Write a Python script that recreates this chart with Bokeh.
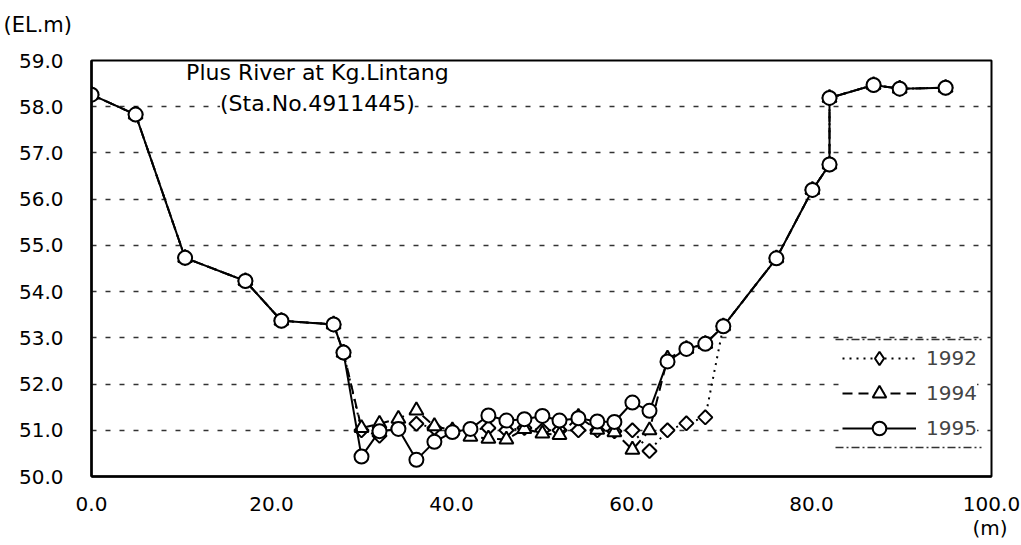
from bokeh.plotting import figure
from bokeh.models import (FixedTicker, NumeralTickFormatter, Label, Legend, Arrow, Range1d, Title)
from bokeh.embed import file_html
from bokeh.resources import INLINE
import numpy as np

# ---- data ----
dist = [0, 4.9, 10.4, 17.1, 21.1, 26.9, 28.0, 30.0, 32.0, 34.1, 36.1, 38.1, 40.1, 42.1,
        44.1, 46.1, 48.1, 50.1, 52.0, 54.1, 56.2, 58.1, 60.1, 62.0, 64.0, 66.1, 68.2,
        70.2, 76.1, 80.1, 82.0, 82.0, 86.9, 89.8, 94.9]

el_1995 = [58.26, 57.83, 54.73, 54.23, 53.37, 53.29, 52.68, 50.43, 50.98, 51.03, 50.36,
           50.75, 50.96, 51.03, 51.32, 51.21, 51.24, 51.31, 51.21, 51.26, 51.19, 51.18,
           51.60, 51.42, 52.49, 52.76, 52.87, 53.25, 54.72, 56.20, 56.75, 58.19, 58.47,
           58.39, 58.41]

el_1994 = [58.26, 57.83, 54.73, 54.23, 53.37, 53.29, 52.68, 51.05, 51.14, 51.25, 51.43,
           51.09, 51.00, 50.86, 50.82, 50.80, 51.03, 50.93, 50.90, 51.29, 51.01, 50.96,
           50.58, 51.00, 52.55, 52.76, 52.87, 53.25, 54.72, 56.20, 56.75, 58.19, 58.47,
           58.39, 58.41]

el_1992 = [58.26, 57.83, 54.73, 54.23, 53.37, 53.29, 52.68, 51.00, 50.88, 51.05, 51.14,
           51.05, 50.98, 51.00, 51.05, 51.00, 51.05, 51.00, 51.00, 51.00, 51.00, 50.98,
           51.00, 50.55, 51.00, 51.15, 51.28, 53.25, 54.72, 56.20, 56.75, 58.19, 58.47,
           58.39, 58.41]

years = ["1992", "1994", "1995"]
y_ticks = [50, 51, 52, 53, 54, 55, 56, 57, 58, 59]
x_ticks = [0, 20, 40, 60, 80, 100]

FONT = "DejaVu Sans"

FW, FH = 900, 416
p = figure(width=1021, height=545, frame_width=FW, frame_height=FH,
           x_range=Range1d(0, 100), y_range=Range1d(50, 59),
           output_backend="svg", toolbar_location=None,
           min_border_left=91, min_border_right=30, min_border_top=60, min_border_bottom=69)
p.background_fill_color = "white"
p.border_fill_color = "white"
p.outline_line_color = "black"
p.outline_line_width = 2

# axes
p.xaxis.ticker = FixedTicker(ticks=x_ticks)
p.yaxis.ticker = FixedTicker(ticks=y_ticks)
p.xaxis.formatter = NumeralTickFormatter(format="0.0")
p.yaxis.formatter = NumeralTickFormatter(format="0.0")
for ax in (p.xaxis[0], p.yaxis[0]):
    ax.major_tick_in = 0
    ax.major_tick_out = 0
    ax.minor_tick_in = 0
    ax.minor_tick_out = 0
    ax.axis_line_color = "black"
    ax.axis_line_width = 2.5
    ax.major_label_text_font = FONT
    ax.major_label_text_font_size = "20px"
    ax.major_label_text_color = "black"
p.yaxis.major_label_standoff = 28
p.xaxis.major_label_standoff = 20

p.xgrid.grid_line_color = None
p.ygrid.grid_line_color = "#333333"
p.ygrid.grid_line_dash = "5 9"
p.ygrid.grid_line_width = 1.3

# series
r92l = p.line(dist, el_1992, line_color="black", line_width=2, line_dash="2 5")
# diamond-shaped swatch for the legend (drawn beneath the rotated squares, fully covered)
r92k = p.scatter(dist, el_1992, marker="diamond", size=11,
                 fill_color="white", line_color="black", line_width=2)
r92m = p.scatter(dist, el_1992, marker="square", angle=np.pi / 4, size=10,
                 fill_color="white", line_color="black", line_width=2)
r94l = p.line(dist, el_1994, line_color="black", line_width=2, line_dash="10 6")
r94m = p.scatter(dist, el_1994, marker="triangle", size=14,
                 fill_color="white", line_color="black", line_width=2)
r95l = p.line(dist, el_1995, line_color="black", line_width=2)
r95m = p.scatter(dist, el_1995, marker="circle", size=14,
                 fill_color="white", line_color="black", line_width=2)

leg_x, leg_y = 751, 31
rule_x0, rule_w = 744, 146
pad, gh, sp = 0, 34, 1
legend = Legend(items=[(years[0], [r92l, r92k]), (years[1], [r94l, r94m]),
                       (years[2], [r95l, r95m])],
                location=(leg_x, leg_y), padding=pad, spacing=sp, margin=0,
                glyph_width=74, glyph_height=gh, label_height=gh, label_standoff=10,
                border_line_alpha=0, background_fill_color="white", background_fill_alpha=1,
                label_text_font=FONT, label_text_font_size="20px")
p.add_layout(legend, "center")

# dash-dot rules just above and below the legend
leg_h = 2 * pad + 3 * gh + 2 * sp
ppu_y = FH / 9.0
ppu_x = FW / 100.0
x0 = rule_x0 / ppu_x
x1 = (rule_x0 + rule_w) / ppu_x
for yy in (50 + (leg_y - 2) / ppu_y, 50 + (leg_y + leg_h + 2) / ppu_y):
    p.add_layout(Arrow(end=None, x_start=x0, y_start=yy, x_end=x1, y_end=yy,
                       line_color="#333333", line_width=1.5, line_dash="8 3 2 3",
                       level="overlay"))

# titles inside the plot
p.add_layout(Label(x=25.1, y=58.74, text="Plus River at Kg.Lintang", text_align="center",
                   text_baseline="middle", text_font=FONT, text_font_size="22px",
                   text_color="black"))
p.add_layout(Label(x=25.1, y=58.07, text="(Sta.No.4911445)", text_align="center",
                   text_baseline="middle", text_font=FONT, text_font_size="22px",
                   text_color="black", background_fill_color="white"))

# unit labels outside the frame (a thin spacer panel keeps "(EL.m)" near the top edge)
p.add_layout(Title(text=" ", align="left", standoff=7, text_font=FONT,
                   text_font_size="1px", text_font_style="normal"), "above")
p.add_layout(Title(text="(EL.m)", align="left", offset=-88, standoff=24,
                   vertical_align="top",
                   text_font=FONT, text_font_size="21px", text_font_style="normal",
                   text_color="black"), "above")
p.add_layout(Title(text="(m)", align="right", offset=-16, standoff=0,
                   text_font=FONT, text_font_size="20px", text_font_style="normal",
                   text_color="black"), "below")

open("out.html", "w").write(file_html(p, INLINE))
